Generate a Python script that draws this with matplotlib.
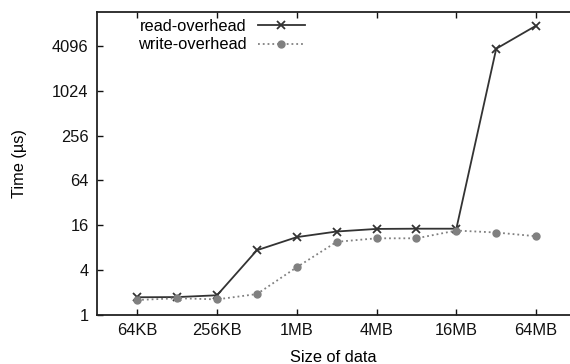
import matplotlib
matplotlib.use("Agg")
import matplotlib.pyplot as plt
from matplotlib.ticker import FixedLocator, NullLocator

plt.rcParams['font.family'] = ['Liberation Sans', 'DejaVu Sans']

sizes = ["64KB", "128KB", "256KB", "512KB", "1MB", "2MB", "4MB", "8MB", "16MB", "32MB", "64MB"]
read_overhead = [1.73, 1.74, 1.84, 7.4, 11.1, 13.2, 14.3, 14.4, 14.4, 3750, 7650]
write_overhead = [1.59, 1.68, 1.62, 1.91, 4.38, 9.6, 10.7, 10.7, 13.6, 12.8, 11.4]
y_ticks = [1, 4, 16, 64, 256, 1024, 4096]

FS = 11.8
fig = plt.figure(figsize=(5.7, 3.64), dpi=100)
ax = fig.add_axes([97/570, 1-315/364, (570-97)/570, (315-12)/364])

x = list(range(len(sizes)))
ax.plot(x, read_overhead, color='#333333', linestyle='-', marker='x', markersize=5.5,
        markeredgewidth=1.3, linewidth=1.3, label='read-overhead')
ax.plot(x, write_overhead, color='#808080', linestyle=':', marker='o', markersize=5,
        linewidth=1.3, label='write-overhead')

ax.set_yscale('log', base=2)
ax.set_ylim(1, 2**13.51)
ax.set_xlim(-1.01, 10.85)
ax.yaxis.set_major_locator(FixedLocator(y_ticks))
ax.yaxis.set_minor_locator(NullLocator())
ax.set_yticklabels([str(t) for t in y_ticks])
ax.set_xticks(x[::2])
ax.set_xticklabels(sizes[::2])
ax.tick_params(direction='in', length=4, width=1, labelsize=FS, top=True, right=False,
               colors='#111111', pad=6)
for s in ['left', 'bottom', 'top']:
    ax.spines[s].set_linewidth(1.3)
    ax.spines[s].set_color('#222222')
ax.spines['right'].set_visible(False)

ax.set_xlabel('Size of data', fontsize=FS)
ax.set_ylabel('Time (µs)', fontsize=FS)
ax.xaxis.set_label_coords(0.5, -(350-315)/303)
ax.yaxis.set_label_coords(-(97-27)/473, 0.5)

leg = ax.legend(loc='upper right', bbox_to_anchor=(305/570, 1-19/364),
                bbox_transform=fig.transFigure, markerfirst=False,
                frameon=False, fontsize=FS, handlelength=2.87, handletextpad=0.67,
                labelspacing=0.2, borderpad=0.0, borderaxespad=0.0)

fig.savefig('out.png', dpi=100)
